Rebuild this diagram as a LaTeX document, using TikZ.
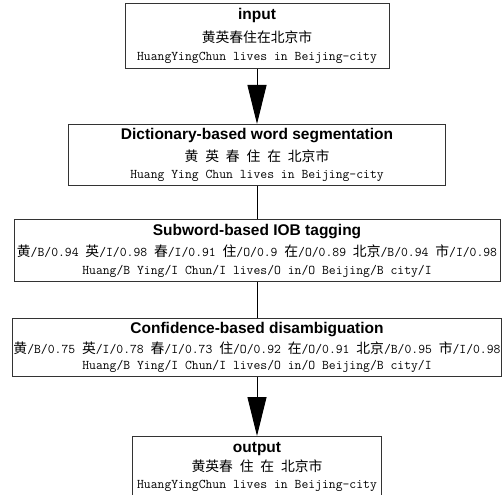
\documentclass[tikz,border=0pt]{standalone}
\usepackage{fontspec}
\newfontfamily\cjk{Noto Sans CJK SC}
\newfontfamily\headfont{Liberation Sans}
\usetikzlibrary{arrows.meta, positioning}
\newcommand{\zh}[1]{{\cjk\fontsize{13.8}{17}\selectfont #1}}
\newcommand{\stitle}[1]{{\headfont\bfseries\fontsize{15.5}{17}\selectfont #1}}

\begin{document}
\begin{tikzpicture}[font=\ttfamily\fontsize{13.3}{17.5}\selectfont,
  stage/.style={draw=black!80, line width=1pt, align=center, inner xsep=1pt, inner ysep=2pt},
  fl/.style={-{Triangle[length=39pt, width=19pt]}, line width=0.9pt},
  ln/.style={line width=0.9pt}]
  \useasboundingbox (0,0) rectangle (504pt,-495pt);
  \node[stage, minimum width=264pt, minimum height=65pt, anchor=north] (input) at (257pt,-3pt)
    {\stitle{input}\\[5pt] \zh{黄英春住在北京市}\\[1pt] HuangYingChun lives in Beijing-city};
  \node[stage, minimum width=377pt, minimum height=61pt, below=55pt of input] (seg)
    {\stitle{Dictionary-based word segmentation}\\[4pt] \zh{黄} \zh{英} \zh{春} \zh{住} \zh{在} \zh{北京市}\\ Huang Ying Chun lives in Beijing-city};
  \node[stage, minimum width=486pt, minimum height=62pt, below=33pt of seg] (iob)
    {\stitle{Subword-based IOB tagging}\\[4pt] \zh{黄}/B/0.94 \zh{英}/I/0.98 \zh{春}/I/0.91 \zh{住}/O/0.9 \zh{在}/O/0.89 \zh{北京}/B/0.94 \zh{市}/I/0.98\\ Huang/B Ying/I Chun/I lives/O in/O Beijing/B city/I};
  \node[stage, minimum width=488pt, minimum height=58pt, below=36pt of iob] (conf)
    {\stitle{Confidence-based disambiguation}\\[2pt] \zh{黄}/B/0.75 \zh{英}/I/0.78 \zh{春}/I/0.73 \zh{住}/O/0.92 \zh{在}/O/0.91 \zh{北京}/B/0.95 \zh{市}/I/0.98\\[-1pt] Huang/B Ying/I Chun/I lives/O in/O Beijing/B city/I};
  \node[stage, minimum width=249pt, minimum height=60pt, below=59pt of conf] (output)
    {\stitle{output}\\[2pt] \zh{黄英春} \zh{住} \zh{在} \zh{北京市}\\[-1pt] HuangYingChun lives in Beijing-city};
  \draw[fl] (input) -- (seg);
  \draw[ln] (seg) -- (iob);
  \draw[ln] (iob) -- (conf);
  \draw[fl] (conf) -- (output);
\end{tikzpicture}
\end{document}
